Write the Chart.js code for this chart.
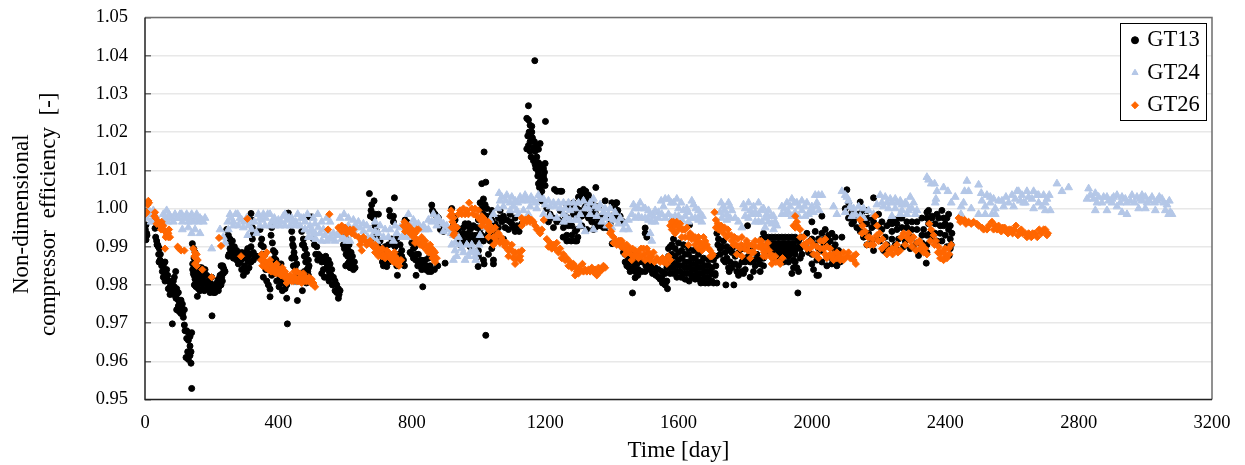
<!DOCTYPE html>
<html lang="en">
  <head>
    <meta charset="UTF-8" />
    <title>Compressor efficiency</title>
    <style>
      body { margin: 0; background: #fff; }
    </style>
  </head>
  <body>
    <canvas id="chart" width="1245" height="465"></canvas>
    <script src="https://cdn.jsdelivr.net/npm/chart.js"></script>
    <script>
      // [day, efficiency]
      const gt13Early = [
        [3,.9957],[1,.9945],[5,.9935],[2,.9925],[6,.993],[3,.9918],
        [30,.9948],[32,.9925],[35,.9915],[38,.9905],[40,.99],[43,.9895],[46,.988],[42,.986],[48,.986],[50,.985],[55,.985],[60,.986],[58,.9835],[62,.983],[68,.9825],[65,.984],[72,.981],[78,.98],[85,.981],[92,.9835],[88,.982],[70,.979],[80,.9785],[90,.979],[75,.9775],[85,.9775],
        [95,.9775],[100,.976],[105,.975],[110,.974],[113,.9725],[108,.9725],[95,.9735],[103,.973],[82,.9698],[115,.9715],[118,.9695],[120,.968],[125,.968],[130,.9675],[135,.9665],[140,.9675],[125,.966],[130,.9655],[135,.964],[128,.9625],[135,.9615],[123,.961],[138,.9625],[130,.9605],[138,.9595],[140,.9529],
        [142,.9908],[146,.9895],[150,.9885],[155,.9865],[147,.987],[143,.9855],[143,.984],[145,.983],[150,.9845],[155,.984],[160,.9835],[165,.9845],[170,.9845],[175,.983],[180,.984],[185,.9825],[190,.981],[150,.9815],[155,.9805],[160,.9805],[165,.9805],[170,.9805],[175,.9805],[180,.9805],[185,.98],[148,.98],[153,.9795],[160,.979],[165,.9785],[172,.979],[178,.9785],[157,.977],[201,.9719],[195,.9805],[205,.98],[210,.9795],[215,.9805],[220,.9815],[225,.9825],[232,.983],[228,.985],[235,.9845],[205,.978],[210,.978],[215,.979],[222,.9795],[228,.98],[232,.981],[235,.983],[233,.985],[200,.982],[190,.979],
        [245,.9945],[250,.993],[255,.992],[258,.9905],[262,.989],[270,.9885],[278,.988],[285,.986],[250,.9875],[252,.988],[290,.984],[305,.9835],[295,.9825],[300,.984],[265,.987],[275,.9865],[290,.9885],[300,.987],[310,.986],[318,.9987],[320,.997],[322,.995],[325,.9935],[322,.992],[318,.99],[315,.988],[308,.9895],[325,.9885],
        [345,.9945],[350,.992],[355,.99],[360,.988],[335,.9875],[345,.987],[380,.995],[378,.993],[382,.991],[385,.989],[388,.987],[398,.9855],[405,.984],[410,.9825],[415,.981],[420,.979],[425,.9765],[427,.9698],[375,.9789],[375,.9769],[355,.982],[365,.981],[370,.98],[370,.9845],[378,.986],[388,.983],[395,.981],[402,.9795],[412,.9785],[380,.9825],[457,.9759],[430,.9988],[500,.9978],[493,.9978],
        [440,.994],[442,.992],[445,.99],[447,.9885],[450,.987],[455,.9855],[445,.985],[460,.983],[450,.981],[440,.987],[470,.994],[475,.992],[480,.9895],[485,.988],[490,.9865],[492,.985],[490,.9825],[470,.982],[472,.9785],[476,.9905],[486,.984],[484,.9805],
        [505,.992],[515,.99],[520,.988],[530,.986],[540,.986],[548,.985],[552,.9835],[535,.984],[530,.983],[545,.982],[552,.981],[565,.982],[570,.981],[575,.98],[580,.979],[582,.9775],[577,.9785],[555,.9855],[560,.984],[538,.982],[545,.9845],
        [600,.9925],[605,.991],[610,.989],[615,.987],[620,.9855],[625,.984],[602,.985],[630,.9845],[612,.986],[595,.9905],[618,.9885],[608,.9875],
        [673,1.0039],[687,1.002],[680,1.001],[678,.9995],[676,.998],[682,.9985],[700,.9985],[733,.9995],[735,.998],[748,1.0028],[745,.998],[745,.9965],[690,.992],[700,.99],[705,.9895],[712,.986],[715,.985],[725,.9848],[757,.9825],[755,.985],[750,.99],[755,.992],[770,.989],[778,.985],[690,.9955],[695,.994],[740,.992],[745,.9905],[760,.988],[765,.9865],[720,.9865],[732,.986],[780,.997],
        [800,.991],[810,.99],[815,.988],[820,.986],[825,.985],[830,.984],[813,.9825],[833,.9795],[845,.985],[855,.985],[805,.987],[818,.985],[840,.9865],[850,.987],[860,1.0009],[865,.999],[875,.998],[885,.996],[895,.994],[900,.9857],[862,.9995],[870,.9985],
        [920,1.0],[925,.998],[930,.997],[935,.995],[945,.993],[955,.995],[965,.993],[975,.992],[985,.993],[995,.993],[1005,.992],[975,.99],[1000,.9875],[1015,.9865],[999,.9848],[1017,.9855],[1030,.988],[1045,.9865],[1045,.9855],[940,.9945],[950,.992],[960,.9915],[970,.9935],[980,.9915],[990,.9915],[1000,.991],[1010,.993],[960,.996],[970,.996],[980,.995],[955,.991],
        [1022,.9668],[1010,1.0065],[1022,1.0069],[1017,1.0148],[1005,1.0015],[1010,1.0],[1015,1.0025],[1020,1.001],[1025,1.0],[1030,.998],[1020,.998],[1040,.997],[1050,.996],[1060,.995],[1035,.995],[1048,.9935],[1030,.9935]
      ];
      const gt13Peak = [
        [1169,1.0387],[1150,1.0269],[1201,1.0228],[1145,1.0236],[1150,1.0232],[1155,1.0218],[1160,1.0215],[1152,1.02],[1160,1.02],[1148,1.019],[1155,1.0175],[1162,1.0185],[1168,1.0175],[1175,1.0165],[1185,1.017],[1145,1.0156],[1155,1.015],[1165,1.016],[1170,1.015],[1180,1.0155],[1175,1.0135],[1180,1.012],[1185,1.0115],[1180,1.0105],[1200,1.0118],[1195,1.0105],[1180,1.0095],[1198,1.0095],[1195,1.0085],[1198,1.0075],[1185,1.007],[1190,1.006],[1200,1.006],[1190,1.0045],[1185,1.0035],[1190,1.002],
        [1228,1.005],[1235,1.0045],[1245,1.0045],[1250,1.0045],
        [1065,.9995],[1075,.998],[1085,.997],[1095,.9965],[1105,.995],[1115,.9955],[1070,.9965],[1080,.995],[1090,.9945],[1100,.996],[1110,.994],[1122,.994],[1075,.992],[1095,.9985],[1110,.9975],[1130,.996],
        [1210,.9965],[1225,.995],[1250,.9965],[1255,.995],[1265,.993],[1280,.993],[1290,.9915],[1295,.9915],[1298,.9925],[1254,.9925],[1240,.997],[1260,.998],
        [1305,1.0045],[1315,1.005],[1322,1.0045],[1310,1.0025],[1320,1.0025],[1330,1.0025],[1335,1.0015],[1340,1.0],[1350,.999],[1345,.9975],[1355,.996],[1352,1.0055],[1360,.9955],[1375,.995],[1385,.995],[1395,.996],[1410,1.0],[1415,1.0015],[1400,1.0015],[1380,1.002],[1412,1.0015],[1418,.9995],[1425,.998],[1285,1.0015],[1295,1.0],[1300,.9985],[1310,.998],[1320,.9985],[1330,.9975],[1340,.9965],[1350,.995],[1360,.9975],[1401,.9908],[1435,.9965],
        [1500,.9949],[1500,.9935],[1505,.9925],
        [1430,.99],[1440,.988],[1450,.987],[1455,.986],[1465,.986],[1475,.9855],[1445,.985],[1455,.9835],[1470,.9835],[1480,.984],[1462,.9779],[1470,.9819],[1450,.9875],[1462,.9875],[1435,.9885],
        [1510,.986],[1520,.985],[1530,.9845],[1540,.984],[1550,.9835],[1560,.983],[1565,.981],[1567,.979],[1555,.9805],[1560,.98],[1550,.982],[1530,.983],[1515,.984],[1545,.9815],
        [1570,.9895],[1580,.9905],[1590,.9895],[1600,.9885],[1610,.989],[1620,.988],[1630,.988],[1640,.987],[1650,.987],[1660,.986],[1670,.986],[1680,.985],[1690,.985],
        [1570,.9875],[1580,.988],[1590,.9875],[1600,.9865],[1610,.987],[1620,.986],[1630,.986],[1640,.9855],[1650,.9855],[1660,.9845],[1670,.9845],[1680,.9835],[1690,.9835],[1700,.9845],
        [1570,.986],[1580,.986],[1590,.9855],[1600,.985],[1610,.985],[1620,.9845],[1630,.9845],[1640,.984],[1650,.984],[1660,.983],[1670,.983],[1680,.982],[1690,.982],[1700,.983],
        [1575,.9845],[1585,.9845],[1595,.9835],[1605,.9835],[1615,.983],[1625,.983],[1635,.983],[1650,.9815],[1660,.9815],[1670,.9815],[1680,.9805],[1690,.9805],[1700,.981],[1710,.9825],
        [1645,.9825],[1667,.9805],[1705,.9805],[1715,.9805],[1742,.98],[1766,.98],[1633,.9957],[1712,.985],[1710,.983]
      ];
      const gt13Late = [
        [1715,.9935],[1720,.992],[1730,.99],[1740,.9885],[1725,.988],[1735,.9865],[1745,.987],[1755,.986],[1770,.9875],[1780,.985],[1790,.986],[1800,.986],[1810,.9875],[1807,.9955],[1815,.982],[1830,.985],[1845,.9835],[1855,.985],[1750,.9845],[1775,.9835],[1790,.9835],[1800,.984],[1760,.9885],[1820,.989],[1835,.9865],[1825,.9835],[1800,.987],
        [1850,.992],[1860,.9925],[1870,.9925],[1880,.9925],[1890,.9925],[1900,.9925],[1910,.9925],[1920,.9925],[1930,.9925],[1940,.9925],[1950,.9925],
        [1855,.99],[1870,.99],[1885,.99],[1900,.99],[1915,.99],[1930,.99],[1945,.99],[1960,.99],[1875,.988],[1890,.988],[1905,.988],[1920,.988],[1935,.988],[1950,.988],[1965,.9895],
        [1915,.986],[1930,.986],[1945,.9845],[1960,.9835],[1940,.983],[1958,.9779],[1950,.986],[1970,.988],[1980,.9905],[1990,.9885],
        [2000,.9965],[2010,.994],[2020,.992],[2030,.998],[2040,.9945],[2050,.993],[2060,.9935],[2070,.9925],[2035,.991],[2050,.99],[2065,.9895],[2080,.989],[2005,.984],[2015,.9825],[2020,.9825],[2030,.986],[2045,.9875],[2060,.987],[2075,.9865],[2085,.986],[2000,.988],[2015,.9865],[2030,.989],
        [2105,1.0049],[2110,1.0015],[2100,1.0],[2120,.999],[2130,.9975],[2145,1.0017],[2150,.999],[2165,.9995],[2185,1.0028],[2185,.998],[2200,.9985],[2165,.996],[2180,.995],[2195,.9955],[2210,.9945],[2120,.996],[2135,.995],[2150,.9965],[2185,.989],[2215,.989],[2260,.989],[2320,.9877],[2343,.9857],[2412,.9877],
        [2195,.992],[2205,.9915],[2220,.9925],[2235,.9965],[2250,.997],[2265,.9975],[2240,.994],[2255,.9945],[2270,.995],[2285,.995],[2300,.9965],[2315,.9965],[2330,.9975],[2345,.999],[2350,.9995],[2360,.998],[2375,.9985],[2390,.9995],[2395,.9975],[2400,.996],[2385,.9955],[2370,.996],[2350,.996],[2335,.9945],[2355,.9935],[2370,.9935],[2385,.9935],[2400,.993],[2410,.9945],[2415,.992],[2405,.99],[2415,.9895],[2300,.9925],[2315,.991],[2330,.991],[2345,.9905],[2240,.992],[2260,.992],[2280,.9915],[2230,.9895],[2295,.9895],[2325,.989]
      ];
      const gt13Fill = [
        [36,.9905],[41,.988],[45,.9865],[52,.9835],[55,.982],[60,.981],[64,.982],[70,.981],[75,.9795],[82,.98],[88,.9795],[95,.979],[100,.978],[93,.9765],[100,.9745],[108,.976],[112,.975],[118,.9735],
        [147,.9825],[152,.9835],[158,.982],[163,.9825],[168,.982],[173,.9815],[148,.985],[152,.986],[192,.98],[198,.979],[203,.9795],[218,.98],[225,.9805],[230,.982],[237,.984],[240,.9835],[195,.978],[220,.9785],
        [255,.9895],[262,.9915],[268,.99],[275,.989],[282,.9875],[288,.9865],[295,.987],[302,.9885],[310,.9875],[268,.9875],[280,.9855],[298,.985],[312,.9845],[318,.986],[325,.9865],[330,.9875],
        [348,.9905],[352,.988],[358,.986],[390,.9885],[393,.9865],[400,.985],[408,.9855],[415,.983],[420,.9815],[425,.98],[410,.9805],[405,.982],[362,.984],
        [443,.9905],[446,.9875],[450,.9845],[455,.983],[458,.981],[472,.9905],[478,.9875],[482,.986],[488,.9835],[490,.9845],[478,.9835],
        [508,.9905],[512,.988],[518,.9865],[525,.9875],[535,.9865],[542,.9875],[550,.9865],[558,.9825],[562,.98],[570,.9785],[575,.978],[580,.9765],[585,.9785],
        [598,.9895],[603,.988],[608,.9855],[615,.9845],[622,.9875],[628,.986],[612,.9905],
        [685,.9975],[690,.9985],[695,.993],[705,.9915],[710,.9885],[718,.9875],[725,.9865],[735,.988],[745,.9875],[755,.988],[765,.9905],[770,.9875],[775,.9865],[785,.9965],[720,.99],[730,.9905],
        [795,.9885],[805,.9895],[800,.988],[812,.9865],[820,.988],[828,.9865],[835,.9855],[842,.984],[850,.9835],[858,.9835],[868,.984],[878,.985],[886,.9945],[880,.9975],
        [925,.9955],[935,.9925],[945,.9905],[955,.9935],[965,.9955],[975,.9945],[985,.9955],[995,.995],[1005,.9945],[1015,.9915],[1025,.9925],[1035,.9915],[1045,.9955],[1055,.9925],[1060,.9975],[1040,.9995],[1015,.9985],[1000,.997],[940,.9915],[1000,.989],[1040,.9895],
        [1150,1.0165],[1158,1.0135],[1165,1.0125],[1170,1.0115],[1172,1.0105],[1178,1.0085],[1183,1.0055],[1192,1.008],[1180,1.0065],
        [1205,1.0],[1215,.9985],[1225,.9975],[1235,.9965],[1245,.9995],[1265,1.001],[1275,1.0005],[1285,.9985],[1295,.9975],[1305,.9995],[1320,1.0005],[1335,.9985],[1345,1.001],[1360,1.0005],[1370,.998],[1385,.998],[1400,.998],[1415,.9975],[1270,.9975],[1280,.9955],[1295,.9945],[1310,.9955],[1325,.9945],[1345,.9945],[1370,.9955],[1315,1.0035],[1300,1.003],[1330,1.0035],[1270,.9955],[1290,.994],[1265,.9915],[1278,.9915],
        [1425,.9915],[1438,.99],[1448,.9895],[1460,.9885],[1472,.9875],[1482,.986],[1492,.986],[1502,.985],[1512,.9845],[1522,.983],[1532,.9825],[1540,.982],[1552,.9805],[1440,.986],[1452,.9845],[1465,.9845],[1478,.9825],[1490,.9835],[1500,.9835],[1565,.9845],[1558,.9865],
        [1575,.99],[1585,.992],[1600,.991],[1615,.9905],[1630,.9895],[1645,.989],[1660,.988],[1675,.987],[1690,.9865],[1705,.9865],[1712,.9875],[1575,.983],[1585,.983],[1595,.982],[1608,.982],[1620,.9815],[1632,.981],[1640,.982],[1655,.9825],
        [1718,.9905],[1725,.9895],[1735,.9915],[1745,.99],[1755,.989],[1765,.99],[1780,.9885],[1790,.9895],[1800,.9895],[1815,.986],[1825,.9865],[1845,.987],[1835,.988],[1740,.986],[1752,.9835],[1760,.9845],[1770,.9855],[1780,.9825],[1795,.983],[1845,.9855],[1855,.987],
        [1855,.9935],[1870,.991],[1885,.991],[1900,.991],[1915,.991],[1930,.991],[1945,.991],[1960,.9915],[1970,.9925],[1985,.9935],[1995,.9915],[1860,.989],[1875,.989],[1890,.989],[1905,.989],[1920,.989],[1935,.989],[1950,.989],[1965,.987],[1885,.987],[1900,.9865],[1915,.9875],[1930,.9875],[1945,.9865],[1955,.9845],[2000,.992],[2010,.9905],[2020,.9895],[2030,.9935],[2040,.992],[2055,.9915],[2070,.9905],[2080,.9875],[2090,.9925],[2045,.985],[2060,.9855],[2075,.985],[2000,.9855],
        [2110,.9975],[2125,.9965],[2140,.9985],[2155,.9975],[2170,.9975],[2185,.9965],[2200,.9955],[2170,.9935],[2180,.9915],[2165,.9905],[2155,.9925],[2145,.994],[2210,.9965],[2225,.9955],[2240,.996],[2255,.996],[2270,.9975],[2285,.9965],[2300,.9945],[2315,.9945],[2330,.993],[2345,.993],[2360,.992],[2375,.9915],[2390,.9915],[2360,.9975],[2345,.9975],[2380,.9975],[2395,.9955],[2405,.9975],[2410,.9985],[2415,.9955],[2420,.9935],[2418,.9905],[2225,.9905],[2250,.9905],[2275,.99],[2305,.99],[2345,.9885]
      ];
      const gt24Early = [
        [0,.9985],[5,.9975],[12,.9995],[20,.9985],[28,.9975],[35,.9975],
        [55,.9985],[65,.9995],[72,.9985],[80,.9975],[90,.9985],[100,.9975],[110,.9985],[120,.9975],[130,.9965],[140,.9985],[150,.9975],[160,.9965],[170,.997],[60,.9975],[75,.9975],[95,.9975],[112,.9965],[125,.9985],[145,.9965],
        [112,.9945],[130,.995],[140,.9935],[150,.9945],[165,.9935],[200,.9895],
        [225,.9945],[235,.9925],[240,.991],[248,.9965],[258,.9975],[272,.9985],[285,.9975],[298,.9965],[310,.9955],[250,.9945],[265,.9955],[280,.9955],[295,.995],[320,.9945],[335,.9935],[308,.993],
        [340,.9985],[350,.997],[362,.9975],[375,.9985],[388,.9975],[400,.997],[415,.998],[425,.997],[440,.9975],[452,.9965],[468,.9975],[480,.9965],[495,.9955],[510,.996],[345,.9955],[360,.9955],[375,.9955],[390,.9955],[405,.9955],[420,.9955],[435,.9955],[450,.9955],[465,.9955],[480,.9945],
        [480,.9945],[495,.994],[510,.9935],[525,.9935],[540,.993],[555,.9925],[570,.9915],[585,.993],[600,.9925],[615,.9915],[500,.9925],[530,.9915],[490,.9925],[512,.992],[545,.9915],[560,.992],
        [585,.9975],[597,.9985],[610,.9975],[625,.997],[640,.9965],[655,.994],[668,.9925],[650,.992],[680,.9925],[695,.9915],[610,.9955],[630,.9955],[645,.995],
        [690,.9965],[705,.9955],[720,.9945],[735,.9945],[750,.9955],[765,.995],[780,.9955],[790,.9985],[805,.997],[820,.996],[835,.9955],[850,.997],[865,.9985],[880,.9975],[895,.996],[910,.9945],[925,.993],[770,.9925],[745,.9915],[805,.9945],[785,.9925],[850,.9945],[875,.9955],[895,.994],
        [920,.9905],[930,.989],[935,.9875],[945,.9905],[955,.9885],[965,.9905],[975,.9885],[985,.989],[990,.9875],[925,.9865],[960,.9865],[992,.9865],[1005,.993],[1020,.995],[1035,.997],[1045,.9985],[1058,1.0]
      ];
      const gt24Mid = [
        [1062,1.004],[1070,1.003],[1082,1.002],[1095,1.0015],[1105,1.0005],[1118,1.0015],[1130,1.002],[1145,1.0025],[1158,1.003],[1172,1.0015],[1185,1.0025],[1200,1.001],[1215,1.0005],[1230,1.0005],[1245,1.0],[1260,1.0],[1275,.9995],[1290,1.0],[1305,.9985],[1320,1.0],[1335,1.0015],[1350,1.0005],[1365,1.001],[1380,1.0],[1395,1.0],[1410,.999],[1425,.9975],[1440,.996],[1450,.9945],
        [1075,1.0005],[1095,.9995],[1115,.9995],[1135,.9995],[1155,1.0005],[1175,1.0],[1195,.9985],[1215,.998],[1235,.9975],[1255,.9985],[1275,.997],[1290,.997],[1305,.9955],[1335,.9985],[1355,.998],[1380,.9975],[1400,.9975],[1320,.994],[1345,.9945],[1400,.995],
        [1465,1.001],[1480,1.0],[1495,1.0],[1510,.9995],[1525,.998],[1540,.999],[1555,1.0005],[1570,1.0025],[1585,1.0015],[1600,1.0],[1615,.9995],[1630,.999],[1645,1.001],[1660,.9995],[1672,.998],[1450,.997],[1470,.9975],[1490,.9975],[1510,.997],[1530,.9965],[1550,.9985],[1570,.9985],[1590,.998],[1610,.997],[1630,.9965],[1650,.9975],[1670,.9965],[1515,.9935],[1520,.9915],
        [1728,1.0015],[1750,1.0015],[1738,.9995],[1760,.9995],[1770,.9975],[1745,.997],[1795,1.001],[1810,1.0015],[1825,1.0005],[1840,1.0015],[1855,1.0],[1870,.9995],[1885,.998],[1800,.998],[1820,.9985],[1840,.9985],[1860,.9975],[1880,.996],[1895,.9955],[1860,.995],[1840,.9965],
        [1910,1.0005],[1925,1.0015],[1940,1.0025],[1955,1.0015],[1970,1.002],[1985,1.0015],[2000,1.0005],[2010,1.0035],[2030,1.0035],[2015,1.0005],[1910,.9985],[1930,.999],[1950,.999],[1970,.9995],[1990,.9985],[2005,.999]
      ];
      const gt24Late = [
        [2090,1.0045],[2100,1.0035],[2065,1.0005],[2075,.9985],[2110,1.002],[2125,1.0],[2140,1.0005],[2155,1.0],[2100,.999],[2120,.998],[2145,.998],[2170,.9995],[2185,.9985],[2205,1.0035],[2220,1.003],[2235,1.0025],[2250,1.0025],[2265,1.002],[2280,1.0015],[2295,1.003],[2305,1.0015],[2315,.9995],[2195,1.001],[2215,1.0005],[2230,1.0],[2250,1.0],[2270,.9995],[2290,.9995],[2240,.998],
        [2345,1.0082],[2350,1.0075],[2358,1.0065],[2368,1.0065],[2375,1.0045],[2372,1.0025],[2370,1.0015],[2395,1.0055],[2408,1.0045],[2418,1.0015],[2430,1.003],[2448,1.0005],[2447,.9985],[2455,1.0015],[2465,1.0072],[2458,1.0045],[2470,1.0045],[2478,1.0],[2500,1.0062],[2508,1.004],[2500,.9985],[2520,.9985],
        [2510,1.002],[2525,1.0035],[2535,1.0015],[2550,1.0],[2560,1.002],[2575,1.0005],[2590,1.0015],[2600,1.0035],[2615,1.0045],[2630,1.0035],[2645,1.0045],[2660,1.0025],[2675,1.0035],[2680,1.0015],[2695,1.0035],[2700,.9995],[2715,.9995],[2712,1.0035],[2735,1.0065],[2750,1.0045],[2770,1.0055],[2550,.9985],[2605,1.0005],[2625,1.002],[2640,1.0015],[2665,1.0],[2690,1.0005],
        [2830,1.0052],[2825,1.0025],[2850,1.004],[2860,1.003],[2870,1.0015],[2885,1.003],[2900,1.0015],[2915,1.0035],[2930,1.003],[2945,1.0015],[2960,1.0035],[2975,1.003],[2990,1.002],[3005,1.0015],[3020,1.003],[3035,1.002],[3050,1.0025],[3065,1.001],[3075,.999],[3080,.9985],[2850,.9995],[2885,.9995],[2915,1.0005],[2930,.999],[2980,1.0],[3000,1.0],[3030,.9995],[3060,.9995],[3070,.9985],[2945,.9985],[2900,1.0025],[2990,1.0035]
      ];
      const gt24Fill = [
        [8,.9985],[18,.9965],[30,.9965],[25,.9995],[62,.997],[68,.9965],[85,.9965],[105,.9985],[115,.9975],[135,.9975],[155,.9985],[165,.9975],[175,.9965],[180,.9975],
        [255,.9985],[265,.9965],[278,.9985],[290,.997],[305,.9975],[315,.9965],[328,.9965],[345,.9975],[355,.9985],[368,.9985],[380,.9965],[395,.9965],[408,.9965],[420,.9985],[432,.9975],[445,.9965],[458,.9985],[475,.9975],[487,.9985],[505,.9975],[518,.9985],[530,.9965],[545,.9975],[555,.9965],[500,.9945],[520,.995],[535,.9945],[548,.994],[565,.9935],[575,.993],[590,.992],[605,.9915],[625,.9945],[635,.995],[655,.996],[665,.9955],[675,.9945],[690,.994],[700,.9935],[715,.9925],[730,.9925],[755,.9935],[780,.9935],[795,.9955],[810,.996],[825,.9945],[840,.9945],[860,.9965],[872,.997],[885,.9965],[905,.9955],[918,.9935],
        [930,.991],[940,.9925],[950,.9895],[970,.9875],[980,.9905],[995,.9885],[1002,.9905],
        [1065,1.002],[1085,1.0035],[1100,1.003],[1110,1.002],[1125,1.003],[1140,1.0035],[1150,1.002],[1165,1.002],[1180,1.0035],[1195,1.0025],[1210,1.002],[1225,1.0015],[1240,1.0015],[1255,1.0015],[1270,1.0015],[1285,1.0015],[1300,1.0015],[1315,1.002],[1330,1.0],[1345,1.0025],[1360,1.0],[1375,.999],[1390,.9985],[1405,.997],[1420,.996],[1435,.9945],[1150,.9985],[1120,.9985],[1255,.9965],[1265,.9975],[1300,.997],[1370,.9965],[1385,.9955],
        [1470,1.0],[1485,1.0015],[1500,1.0],[1515,.9985],[1530,.9995],[1548,1.002],[1560,1.0025],[1578,1.0015],[1595,1.0025],[1608,1.0015],[1625,1.0],[1640,1.002],[1652,1.0],[1665,.9985],[1460,.9985],[1480,.998],[1500,.9975],[1520,.9965],[1540,.9975],[1560,.9975],[1580,.9975],[1600,.998],[1620,.998],[1640,.9975],[1660,.997],
        [1735,1.0005],[1755,1.0005],[1745,.9985],[1725,.999],[1730,.9975],[1755,.9975],[1780,.9965],[1790,.995],[1800,1.0],[1815,.9995],[1830,.999],[1848,.9995],[1865,.9985],[1878,.998],[1890,.9965],[1810,.9975],[1830,.9965],[1850,.9965],[1870,.9965],[1885,.9945],
        [1918,1.0],[1935,1.0005],[1948,1.0015],[1962,1.0005],[1978,1.0005],[1995,.9995],[1920,.9985],[1940,.998],[1960,.998],[1980,.998],[2015,1.0015],[2022,.9995],[2020,1.0035],
        [2105,1.003],[2115,1.0005],[2130,.9985],[2155,.9975],[2210,1.0015],[2225,1.0015],[2240,1.0015],[2255,1.0015],[2270,1.001],[2285,1.001],[2300,1.0],[2310,.9985],[2265,.9985],[2285,.9985],
        [2520,1.0005],[2535,1.003],[2545,1.0025],[2570,1.002],[2582,1.003],[2610,1.0025],[2620,1.0045],[2635,1.0015],[2650,1.003],[2665,1.0045],[2680,1.0035],[2700,1.0015],[2705,1.0025],[2540,.9985],
        [2835,1.0035],[2845,1.0025],[2855,1.0015],[2875,1.003],[2890,1.002],[2905,1.003],[2925,1.0015],[2940,1.0025],[2955,1.002],[2968,1.0015],[2985,1.0025],[3000,1.003],[3012,1.002],[3028,1.0015],[3042,1.003],[3055,1.0015],[3072,1.002]
      ];
      const gt26Early = [
        [0,.9985],[10,1.002],[12,1.0015],[30,.999],[28,.998],[35,.996],[45,.9955],[50,.9965],[55,.9955],[60,.994],[65,.993],[70,.9935],[75,.9925],[60,.9895],[98,.99],[102,.9895],[108,.989],[118,.989],
        [145,.9895],[150,.9885],[155,.988],[158,.9865],[155,.985],[172,.984],[200,.982],[222,.9923],[228,.9902],[288,.9875],[307,.9973],
        [350,.988],[365,.9885],[355,.9865],[362,.986],[368,.9855],[375,.9855],[382,.985],[390,.985],[398,.9845],[405,.984],[412,.9835],[418,.983],[378,.9835],[392,.983],[402,.9835],
        [418,.982],[430,.9815],[440,.982],[450,.982],[455,.9835],[465,.982],[475,.983],[482,.982],[490,.981],[498,.9805],[505,.98],[510,.9795],[445,.981],[460,.981],[470,.9805],[480,.981],[495,.9815],
        [553,.9985],[549,.9945],
        [580,.995],[590,.994],[600,.995],[610,.994],[620,.9935],[630,.993],[640,.9925],[650,.9915],[660,.9915],[668,.991],[675,.9915],[685,.99],[695,.9895],[705,.989],[715,.988],[725,.9875],[735,.987],[745,.986],[755,.9855],[762,.985],[690,.9885],[710,.9875],[730,.9885],[750,.9875],[650,.989],
        [775,.9955],[785,.9945],[795,.9935],[805,.9925],[815,.992],[825,.991],[835,.99],[845,.989],[855,.9885],[865,.9875],[875,.987],[870,.986],[780,.994],[800,.9945],[820,.9945],[840,.9915],[860,.9895],
        [918,.9995],[915,.998],[922,.9965],[925,.995],[928,.9935],[935,.995],[945,.9995],[955,1.0],[965,.9995],[972,1.0015],[980,1.0],[990,1.0],[1000,.9995],[1010,.998],[1015,.9965],[1025,.995],[1035,.994],[1045,.9925],[1055,.9915],[1065,.991],[1075,.991],[1030,.9965],[1050,.995],[1060,.9935],[1075,.9915],[1085,.991],[1095,.9895],[1105,.9885],[1115,.987],[1125,.9875],[1090,.989],[1110,.9885],[1130,.989],[1110,.9855],[1125,.9865]
      ];
      const gt26Mid = [
        [1130,.9955],[1140,.997],[1150,.9975],[1160,.997],[1170,.9955],[1180,.9945],[1190,.9945],[1196,.997],[1205,.992],[1215,.991],[1225,.9905],[1235,.991],[1245,.9895],[1255,.988],[1265,.987],[1275,.986],[1285,.9855],[1295,.9835],[1305,.984],[1312,.9855],[1320,.984],[1330,.984],[1340,.9845],[1350,.984],[1360,.9845],[1370,.984],[1380,.9845],[1300,.9845],[1290,.9825],[1325,.9835],[1345,.9835],[1355,.9825],
        [1392,.9955],[1398,.994],[1405,.9925],[1412,.9915],[1420,.9915],[1428,.99],[1438,.9895],[1448,.9885],[1458,.988],[1468,.9875],[1478,.9885],[1488,.9895],[1498,.988],[1508,.987],[1518,.9875],[1525,.9885],[1535,.987],[1545,.986],[1555,.986],[1565,.9855],[1575,.9865],[1430,.9915],[1450,.989],[1470,.989],[1490,.9875],[1510,.9885],
        [1575,.9955],[1585,.9965],[1595,.9965],[1605,.996],[1615,.9945],[1625,.995],[1635,.9935],[1645,.9925],[1655,.9915],[1665,.991],[1675,.9925],[1685,.9905],[1695,.989],[1703,.988],[1580,.9945],[1600,.9945],[1620,.9925],[1640,.992],[1660,.9895],[1680,.99],[1695,.9875],
        [1708,.999],[1712,.997],[1718,.996],[1728,.9955],[1738,.995],[1748,.9945],[1758,.993],[1768,.9925],[1778,.992],[1788,.9905],[1798,.9895],[1808,.989],[1820,.9905],[1830,.9915],[1840,.99],[1720,.9945],[1745,.9925],[1765,.9905],[1785,.9895],[1805,.9915],[1825,.9885],
        [1848,.9915],[1858,.9895],[1868,.991],[1876,.988],[1884,.9875],[1892,.986],[1900,.986],[1912,.987],[1850,.9895],[1862,.9875],[1880,.9855]
      ];
      const gt26Late = [
        [1950,.998],[1945,.9955],[1955,.9955],[1965,.9945],[1975,.9925],[1985,.991],[1995,.9895],[2005,.988],[2015,.99],[2025,.9915],[2035,.9915],[2045,.99],[2055,.9895],[2065,.988],[2075,.987],[2085,.9875],[2095,.9885],[2105,.9875],[2115,.987],[2125,.9875],[2132,.9855],[2020,.987],[2040,.988],[2060,.9875],[2085,.9865],
        [2145,.997],[2152,.9955],[2160,.994],[2168,.9925],[2175,.9905],[2183,.992],[2190,.998],[2196,.9955],[2203,.9935],[2212,.992],[2222,.9905],[2232,.989],[2242,.988],[2250,.9895],[2258,.9885],[2268,.9925],[2275,.9935],[2285,.9925],[2295,.9915],[2305,.9925],[2315,.991],[2325,.9895],[2335,.9885],[2345,.988],[2352,.996],[2358,.9945],[2365,.993],[2372,.9915],[2380,.99],[2388,.9885],[2395,.9885],[2402,.9875],[2410,.9895],[2418,.9905],
        [2440,.9975],[2450,.997],[2458,.997],[2470,.9965],[2485,.9965],[2495,.996],[2510,.995],[2525,.9945],[2540,.9965],[2550,.9955],[2560,.9955],[2572,.995],[2582,.994],[2592,.9945],[2602,.9935],[2612,.9955],[2622,.994],[2632,.9935],[2645,.9925],[2658,.9925],[2670,.9935],[2682,.9945],[2695,.9945],[2708,.9935]
      ];
      const gt26Fill = [
        [5,.999],[8,1.001],[32,.9975],[40,.9965],[48,.9945],[55,.9945],[62,.9925],[70,.9925],[72,.9945],[148,.9875],[152,.987],[150,.9855],
        [348,.9865],[352,.985],[358,.9875],[362,.9845],[370,.984],[375,.9865],[380,.984],[385,.9835],[390,.984],[395,.9855],[400,.983],[408,.9825],[412,.9845],[420,.9835],[425,.9825],
        [425,.9805],[435,.9825],[440,.981],[448,.9835],[455,.981],[465,.983],[472,.9815],[485,.981],[492,.982],[500,.9815],[505,.9805],
        [590,.9955],[605,.9935],[615,.9945],[625,.9945],[645,.9905],[655,.9925],[665,.9905],[680,.9905],[690,.9905],[700,.9895],[700,.9875],[712,.9895],[720,.987],[725,.989],[735,.988],[740,.9865],[748,.9885],[755,.987],[760,.986],[768,.9865],[745,.9865],
        [778,.9965],[790,.9955],[800,.9935],[810,.9935],[815,.9945],[830,.9925],[840,.9905],[850,.99],[855,.9905],[865,.989],[870,.9885],[825,.9905],[835,.991],[810,.991],[850,.9885],[862,.987],
        [920,.9985],[925,.9975],[930,.9955],[920,.995],[925,.993],[940,.9985],[950,.9985],[960,.9985],[970,.9985],[985,.9985],[995,.998],[1005,.997],[1015,.9975],[1025,.9965],[1035,.9955],[1045,.9945],[1055,.993],[1068,.9925],[1080,.99],[1090,.9875],[1100,.9905],[1105,.987],[1120,.9885],[1010,.9955],[1030,.9925],[1045,.9905],
        [1135,.9965],[1145,.9965],[1155,.9965],[1165,.9965],[1175,.9945],[1185,.9935],[1130,.9975],[1210,.99],[1220,.9895],[1230,.9895],[1240,.9885],[1250,.987],[1260,.9865],[1270,.985],[1280,.9845],[1292,.9845],[1300,.983],[1315,.9835],[1335,.9835],[1350,.983],[1365,.9835],[1375,.985],
        [1395,.9935],[1405,.991],[1415,.9905],[1425,.9915],[1435,.9905],[1445,.9905],[1455,.9895],[1462,.9895],[1475,.9875],[1485,.9875],[1495,.9895],[1505,.9895],[1515,.9865],[1528,.986],[1540,.9865],[1552,.987],[1560,.9865],[1570,.9875],[1440,.988],[1460,.9865],[1480,.987],[1500,.9865],
        [1580,.9965],[1590,.9955],[1600,.9955],[1610,.9945],[1620,.9945],[1630,.9925],[1640,.993],[1650,.9905],[1660,.9925],[1670,.9905],[1680,.9915],[1690,.9895],[1700,.9875],[1650,.9925],[1590,.9935],[1610,.9925],[1630,.9905],[1670,.989],
        [1712,.995],[1725,.9945],[1735,.9935],[1750,.993],[1760,.9915],[1770,.9905],[1780,.99],[1790,.9925],[1800,.9905],[1810,.9905],[1820,.9885],[1830,.99],[1842,.9915],[1775,.988],[1790,.9875],[1815,.987],
        [1850,.9905],[1856,.9885],[1862,.99],[1872,.989],[1880,.987],[1890,.9875],[1905,.9855],[1855,.9875],
        [1955,.9965],[1950,.995],[1965,.9925],[1975,.9905],[1985,.9895],[1995,.9915],[2005,.9905],[2015,.988],[2025,.9895],[2035,.9895],[2045,.987],[2055,.988],[2065,.9865],[2075,.9885],[2095,.9865],[2110,.9885],[2125,.9865],[2132,.988],[2040,.992],
        [2150,.9935],[2165,.9905],[2172,.9925],[2185,.9905],[2200,.9915],[2195,.993],[2210,.9895],[2225,.988],[2240,.9895],[2255,.9905],[2265,.989],[2280,.9905],[2290,.9935],[2300,.99],[2312,.989],[2322,.9915],[2330,.9905],[2340,.9895],[2355,.9915],[2368,.9905],[2378,.9885],[2385,.987],[2400,.9895],[2412,.988],[2395,.9865],[2405,.987],
        [2445,.9965],[2462,.996],[2478,.996],[2500,.9955],[2515,.9945],[2530,.9955],[2545,.9945],[2555,.9945],[2568,.994],[2578,.995],[2588,.9935],[2598,.9945],[2606,.9945],[2618,.993],[2628,.9945],[2640,.9935],[2650,.9935],[2662,.9935],[2676,.9925],[2688,.9935],[2700,.9945],[2705,.993]
      ];

      const gt13Points = [...gt13Early, ...gt13Peak, ...gt13Late, ...gt13Fill];
      const gt24Points = [...gt24Early, ...gt24Mid, ...gt24Late, ...gt24Fill];
      const gt26Points = [...gt26Early, ...gt26Mid, ...gt26Late, ...gt26Fill];

      const toXY = (rows) => rows.map(([x, y]) => ({ x, y }));
      const serif = "'Liberation Serif', 'Times New Roman', serif";
      const AXIS_GREY = "#6e6e6e";

      // legend frame and the full plot border sit on top of everything
      const framePlugin = {
        id: "frame",
        afterLayout(chart) {
          const legend = chart.legend;
          legend.left = 1124;
          legend.right = 1206;
          legend.top = 19;
          legend.bottom = 150;
        },
        afterDraw(chart) {
          const ctx = chart.ctx;
          const area = chart.chartArea;
          ctx.save();
          ctx.lineWidth = 1.5;
          ctx.strokeStyle = AXIS_GREY;
          ctx.beginPath();
          ctx.moveTo(area.left, area.top);
          ctx.lineTo(area.right, area.top);
          ctx.lineTo(area.right, area.bottom);
          ctx.stroke();
          ctx.strokeStyle = "#222";
          ctx.beginPath();
          ctx.moveTo(area.left, area.top);
          ctx.lineTo(area.left, area.bottom);
          ctx.lineTo(area.right, area.bottom);
          ctx.stroke();
          ctx.fillStyle = "#fff";
          ctx.fillRect(1120.5, 23.5, 86, 97);
          ctx.strokeStyle = "#000";
          ctx.lineWidth = 1;
          ctx.strokeRect(1120.5, 23.5, 86, 97);
          ctx.restore();
          chart.legend.draw();
        },
      };

      new Chart(document.getElementById("chart"), {
        type: "scatter",
        data: {
          datasets: [
            { label: "GT13", data: toXY(gt13Points), pointStyle: "circle", pointRadius: 3, backgroundColor: "#000000", borderColor: "#000000", order: 3 },
            { label: "GT24", data: toXY(gt24Points), pointStyle: "triangle", pointRadius: 4.5, backgroundColor: "#b4c7e7", borderColor: "#b4c7e7", order: 2 },
            { label: "GT26", data: toXY(gt26Points), pointStyle: "rectRot", pointRadius: 3.6, backgroundColor: "#ff6600", borderColor: "#ff6600", order: 1 },
          ],
        },
        options: {
          responsive: false,
          animation: false,
          layout: { padding: { top: 17.5, right: 33, left: 0, bottom: 0 } },
          plugins: {
            tooltip: { enabled: false },
            legend: {
              position: "chartArea",
              align: "start",
              labels: {
                usePointStyle: true,
                boxWidth: 2,
                boxHeight: 5,
                padding: 10,
                color: "#000",
                font: { family: serif, size: 22.5 },
                sort: (a, b) => a.datasetIndex - b.datasetIndex,
              },
            },
          },
          scales: {
            x: {
              type: "linear",
              min: 0,
              max: 3200,
              afterFit: (scale) => { scale.height = 65.5; },
              afterBuildTicks: (scale) => {
                scale.ticks = [0, 400, 800, 1200, 1600, 2000, 2400, 2800, 3200].map((value) => ({ value }));
              },
              grid: { drawOnChartArea: false, drawTicks: false },
              border: { display: false },
              ticks: {
                color: "#000",
                padding: 13,
                maxRotation: 0,
                font: { family: serif, size: 18.5 },
                callback: (value) => String(value),
              },
              title: { display: true, text: "Time [day]", color: "#000", padding: { top: 2, bottom: 0 }, font: { family: serif, size: 23 } },
            },
            y: {
              min: 0.95,
              max: 1.05,
              afterFit: (scale) => {
                scale.width = 145;
                scale.paddingTop = 0;
                scale.paddingBottom = 0;
              },
              grid: { color: "#e8e8e8", lineWidth: 1.5, tickLength: -6, tickColor: AXIS_GREY },
              border: { display: false },
              ticks: {
                stepSize: 0.01,
                color: "#000",
                padding: 23,
                font: { family: serif, size: 18.5 },
                callback: (value) => value.toFixed(2),
              },
              title: {
                display: true,
                text: ["Non-dimensional  ", "compressor  efficiency  [-]  "],
                color: "#000",
                padding: { top: 8, bottom: 0 },
                font: { family: serif, size: 23, lineHeight: 1.2 },
              },
            },
          },
        },
        plugins: [framePlugin],
      });
    </script>
  </body>
</html>
